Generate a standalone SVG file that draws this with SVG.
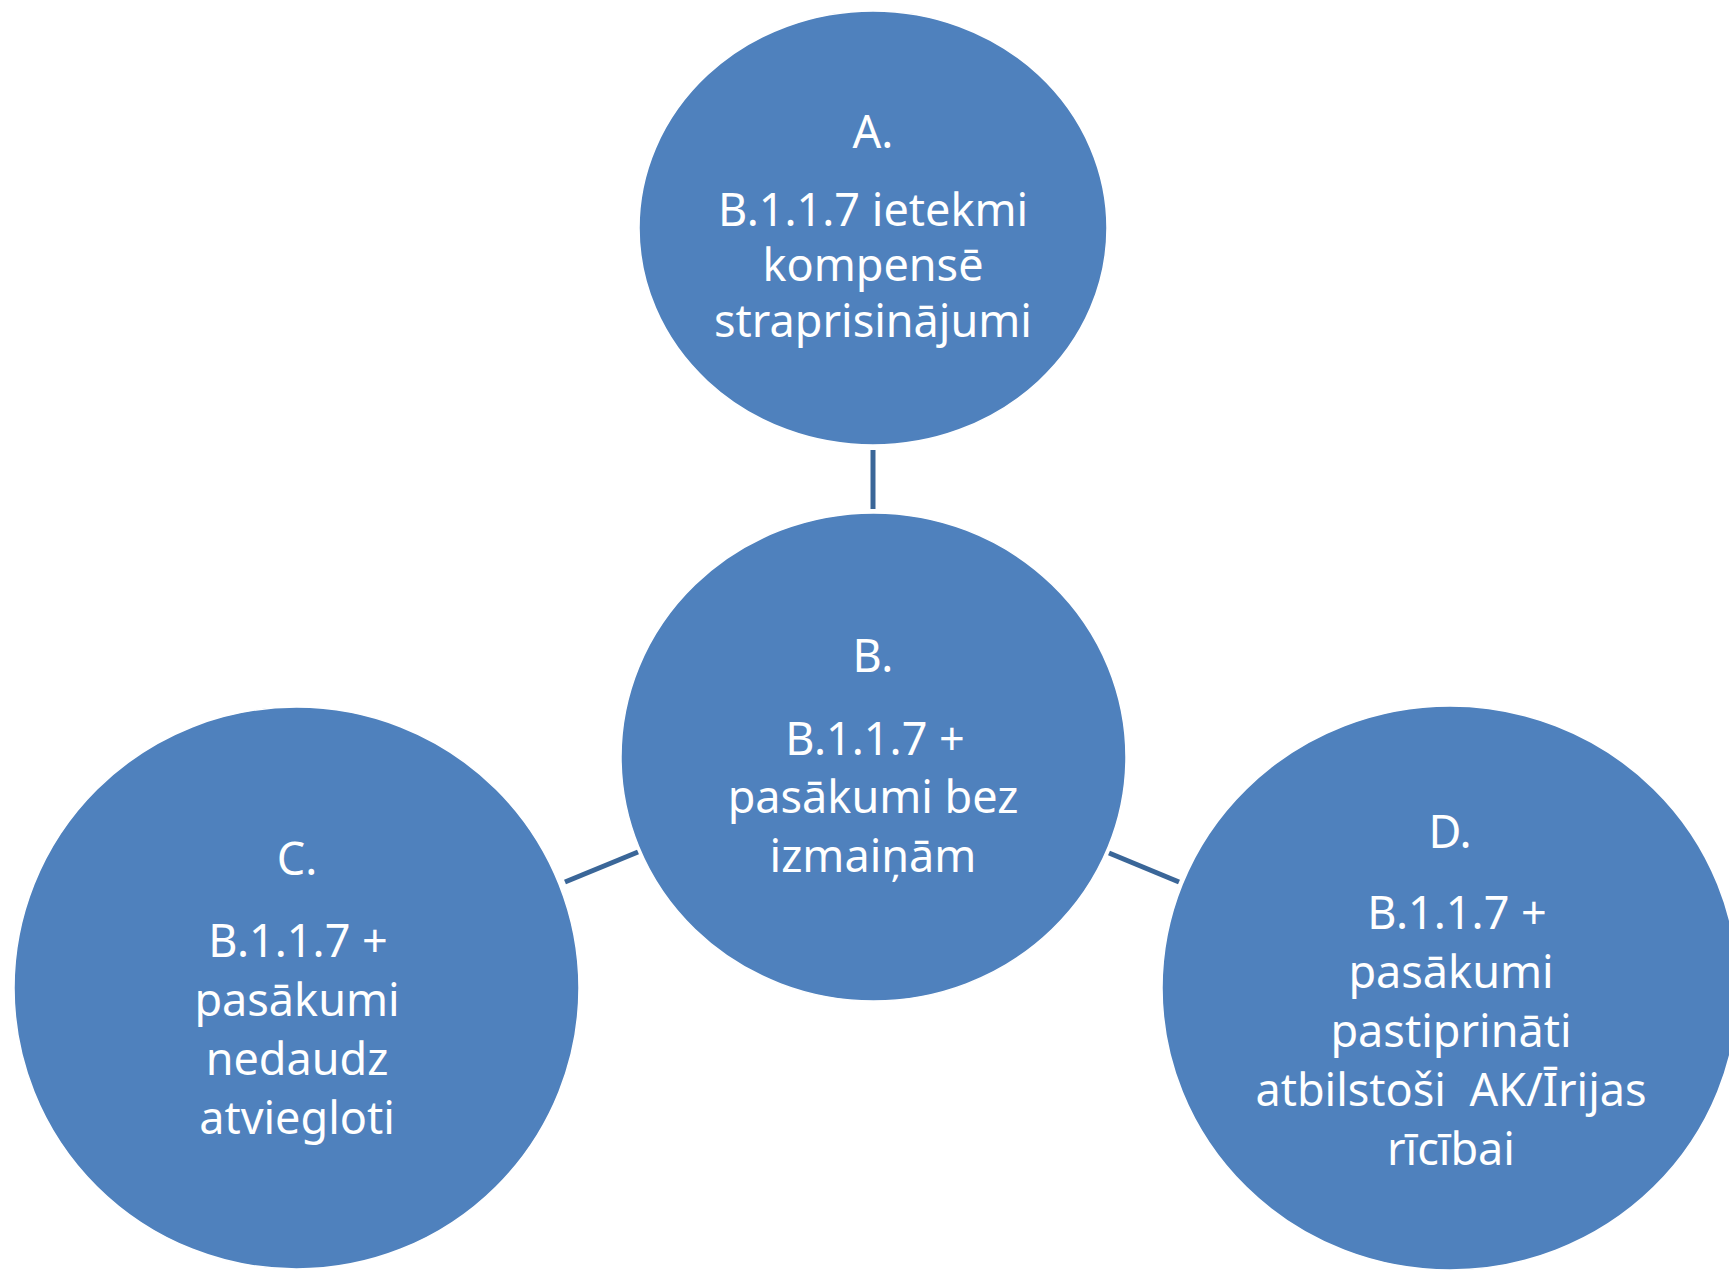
<svg xmlns="http://www.w3.org/2000/svg" width="1729" height="1273" viewBox="0 0 1729 1273">
<style>
.node{fill:#4F81BD;stroke:#ffffff;stroke-width:1.5}
.lbl{font-family:"Noto Sans","Open Sans",sans-serif;font-size:45px;fill:#ffffff;text-anchor:middle}
.conn{stroke:#3A6698;stroke-width:5;fill:none}
</style>
<rect width="1729" height="1273" fill="#ffffff"/>
<g id="connectors">
<line class="conn" x1="873" y1="450" x2="873" y2="509"/>
<line class="conn" x1="565" y1="882" x2="638" y2="852"/>
<line class="conn" x1="1109" y1="853" x2="1179" y2="882"/>
</g>
<g id="nodeA">
<ellipse class="node" cx="873" cy="228" rx="234" ry="217"/>
<text class="lbl" x="873" y="148">A.</text>
<text class="lbl" x="873" y="226">B.1.1.7 ietekmi</text>
<text class="lbl" x="873" y="281">kompensē</text>
<text class="lbl" x="873" y="337">straprisinājumi</text>
</g>
<g id="nodeB">
<ellipse class="node" cx="873.5" cy="757" rx="252.5" ry="244"/>
<text class="lbl" x="873" y="672">B.</text>
<text class="lbl" x="875" y="755">B.1.1.7 +</text>
<text class="lbl" x="873" y="813">pasākumi bez</text>
<text class="lbl" x="873" y="872">izmaiņām</text>
</g>
<g id="nodeC">
<ellipse class="node" cx="296.5" cy="988" rx="282.5" ry="281"/>
<text class="lbl" x="297" y="875">C.</text>
<text class="lbl" x="298" y="957">B.1.1.7 +</text>
<text class="lbl" x="297" y="1016">pasākumi</text>
<text class="lbl" x="297" y="1075">nedaudz</text>
<text class="lbl" x="297" y="1134">atviegloti</text>
</g>
<g id="nodeD">
<ellipse class="node" cx="1450" cy="988" rx="288" ry="282"/>
<text class="lbl" x="1450" y="848">D.</text>
<text class="lbl" x="1457" y="929">B.1.1.7 +</text>
<text class="lbl" x="1451" y="988">pasākumi</text>
<text class="lbl" x="1451" y="1047">pastiprināti</text>
<text class="lbl" x="1451" y="1106" xml:space="preserve">atbilstoši  AK/Īrijas</text>
<text class="lbl" x="1451" y="1165">rīcībai</text>
</g>
</svg>
